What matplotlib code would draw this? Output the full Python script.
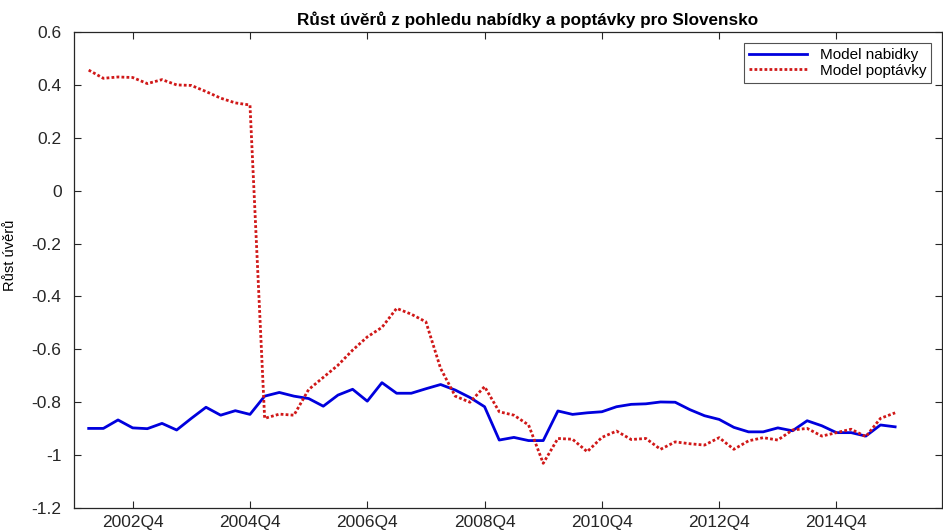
import matplotlib
matplotlib.use("Agg")
import matplotlib.pyplot as plt

# quarterly data, 2002Q1 .. 2015Q4
quarters = [f"{y}Q{q}" for y in range(2002, 2016) for q in range(1, 5)]

supply = [
    -0.899, -0.899, -0.867, -0.897, -0.900, -0.880, -0.905, -0.861,
    -0.819, -0.849, -0.832, -0.846, -0.777, -0.763, -0.777, -0.786,
    -0.815, -0.773, -0.751, -0.796, -0.726, -0.766, -0.766, -0.749,
    -0.733, -0.754, -0.782, -0.817, -0.943, -0.933, -0.945, -0.945,
    -0.833, -0.846, -0.840, -0.836, -0.817, -0.808, -0.806, -0.799,
    -0.800, -0.828, -0.851, -0.865, -0.895, -0.912, -0.912, -0.897,
    -0.908, -0.870, -0.889, -0.915, -0.915, -0.928, -0.886, -0.893,
]

demand = [
    0.456, 0.425, 0.430, 0.428, 0.405, 0.420, 0.400, 0.398,
    0.375, 0.350, 0.332, 0.324, -0.861, -0.845, -0.849, -0.752,
    -0.706, -0.660, -0.603, -0.553, -0.517, -0.445, -0.467, -0.496,
    -0.672, -0.777, -0.800, -0.741, -0.836, -0.849, -0.886, -1.031,
    -0.937, -0.940, -0.987, -0.933, -0.909, -0.941, -0.937, -0.978,
    -0.950, -0.957, -0.962, -0.934, -0.978, -0.946, -0.934, -0.943,
    -0.905, -0.899, -0.928, -0.915, -0.902, -0.930, -0.861, -0.840,
]

xtick_labels = ["2002Q4", "2004Q4", "2006Q4", "2008Q4", "2010Q4", "2012Q4", "2014Q4"]
ytick_values = [-1.2, -1.0, -0.8, -0.6, -0.4, -0.2, 0.0, 0.2, 0.4, 0.6]
ytick_labels = ["-1.2", "-1", "-0.8", "-0.6", "-0.4", "-0.2", "0", "0.2", "0.4", "0.6"]

plt.rcParams['font.family'] = ['Liberation Sans', 'DejaVu Sans']

x = list(range(1, len(quarters) + 1))
xtick_pos = [quarters.index(q) + 1 for q in xtick_labels]

fig = plt.figure(figsize=(9.43, 5.32), dpi=100)
ax = fig.add_axes([0.0785, 0.0451, 0.9205, 0.8947])

ax.plot(x, supply, color='#0000dd', linewidth=2.0, label='Model nabidky')
ax.plot(x, demand, color='#d01818', linewidth=2.0, linestyle=(0, (1, 0.8)),
        label='Model poptávky')

ax.set_xlim(0, 59.2)
ax.set_ylim(-1.2, 0.6)
ax.set_xticks(xtick_pos)
ax.set_xticklabels(xtick_labels)
ax.set_yticks(ytick_values)
ax.set_yticklabels(ytick_labels)

ax.tick_params(direction='in', top=True, right=True, length=5, width=0.8,
               labelsize=12.5, colors='#262626')
ax.tick_params(axis='y', pad=9)
ax.tick_params(axis='x', pad=5)
for s in ax.spines.values():
    s.set_color('#262626')
    s.set_linewidth(0.9)

ax.set_ylabel('Růst úvěrů', fontsize=10.5, labelpad=7)
ax.yaxis.set_label_coords(-0.066, 0.53)
ax.set_title('Růst úvěrů z pohledu nabídky a poptávky pro Slovensko',
             fontsize=12.3, fontweight='bold', pad=5, x=0.522)

leg = ax.legend(loc='upper right', fontsize=11, frameon=True, fancybox=False,
                borderaxespad=0.7, handlelength=3.8, labelspacing=0.1,
                borderpad=0.35)
leg.get_frame().set_edgecolor('#262626')
leg.get_frame().set_linewidth(0.8)

fig.savefig('out.png', dpi=100)
